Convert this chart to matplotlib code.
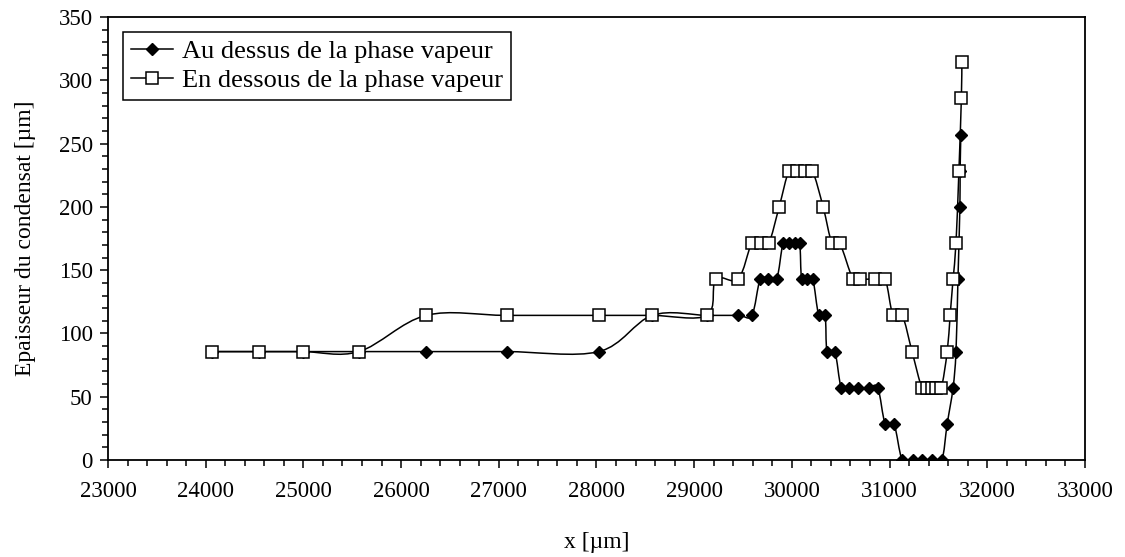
import numpy as np
import matplotlib
matplotlib.use("Agg")
import matplotlib.pyplot as plt
from matplotlib.path import Path
from matplotlib.patches import PathPatch
from matplotlib.lines import Line2D
from matplotlib.ticker import MultipleLocator

# Au dessus de la phase vapeur (losanges pleins)
x_dessus = [24060, 24545, 25000, 25570, 26255, 27080, 28025, 28570, 29130, 29450,
            29590, 29675, 29755, 29845, 29910, 29970, 30030, 30080, 30100, 30160,
            30215, 30275, 30340, 30360, 30440, 30505, 30585, 30675, 30790, 30880,
            30955, 31045, 31130, 31240, 31335, 31435, 31535, 31590, 31650, 31680,
            31700, 31720, 31722, 31730]
y_dessus = [85.7, 85.7, 85.7, 85.7, 85.7, 85.7, 85.7, 114.3, 114.3, 114.3,
            114.3, 142.9, 142.9, 142.9, 171.4, 171.4, 171.4, 171.4, 142.9, 142.9,
            142.9, 114.3, 114.3, 85.7, 85.7, 57.1, 57.1, 57.1, 57.1, 57.1,
            28.6, 28.6, 0, 0, 0, 0, 0, 28.6, 57.1, 85.7,
            142.9, 200, 228.6, 257.1]

# En dessous de la phase vapeur (carrés vides)
x_dessous = [24060, 24545, 25000, 25570, 26255, 27080, 28025, 28570, 29130, 29220,
             29450, 29590, 29685, 29765, 29870, 29970, 30050, 30130, 30210, 30320,
             30410, 30490, 30625, 30700, 30850, 30955, 31035, 31130, 31230, 31330,
             31380, 31430, 31480, 31530, 31590, 31620, 31650, 31680, 31710, 31735,
             31740]
y_dessous = [85.7, 85.7, 85.7, 85.7, 114.3, 114.3, 114.3, 114.3, 114.3, 142.9,
             142.9, 171.4, 171.4, 171.4, 200, 228.6, 228.6, 228.6, 228.6, 200,
             171.4, 171.4, 142.9, 142.9, 142.9, 142.9, 114.3, 114.3, 85.7, 57.1,
             57.1, 57.1, 57.1, 57.1, 85.7, 114.3, 142.9, 171.4, 228.6, 285.7,
             314.3]

label_dessus = "Au dessus de la phase vapeur"
label_dessous = "En dessous de la phase vapeur"

plt.rcParams.update({
    "font.family": ["Liberation Serif", "DejaVu Serif"],
    "font.size": 16.5,
    "axes.linewidth": 1.3,
})


def smooth_path(x, y):
    # courbe lissée façon Excel (Catmull-Rom -> Bézier)
    pts = np.column_stack([x, y]).astype(float)
    n = len(pts)
    verts = [pts[0]]
    codes = [Path.MOVETO]
    for i in range(n - 1):
        p0 = pts[max(i - 1, 0)]
        p1 = pts[i]
        p2 = pts[i + 1]
        p3 = pts[min(i + 2, n - 1)]
        verts += [p1 + (p2 - p0) / 6, p2 - (p3 - p1) / 6, p2]
        codes += [Path.CURVE4] * 3
    return Path(verts, codes)


fig = plt.figure(figsize=(11.25, 5.57), dpi=100)
ax = fig.add_axes([0.096, 0.174, 0.8684, 0.7955])

for xs, ys in [(x_dessus, y_dessus), (x_dessous, y_dessous)]:
    ax.add_patch(PathPatch(smooth_path(xs, ys), fill=False, lw=1.1,
                           ec="black", zorder=2))

ax.plot(x_dessus, y_dessus, ls="none", marker="D", ms=6.2,
        mfc="black", mec="black", zorder=3)
ax.plot(x_dessous, y_dessous, ls="none", marker="s", ms=8,
        mfc="white", mec="black", mew=1.1, zorder=3)

ax.set_xlim(23000, 33000)
ax.set_ylim(0, 350)
ax.xaxis.set_major_locator(MultipleLocator(1000))
ax.xaxis.set_minor_locator(MultipleLocator(200))
ax.yaxis.set_major_locator(MultipleLocator(50))
ax.yaxis.set_minor_locator(MultipleLocator(10))
ax.tick_params(which="both", direction="out", color="black", width=1.1)
ax.tick_params(which="major", length=6)
ax.tick_params(which="minor", length=4)
ax.tick_params(axis="x", pad=9)
ax.tick_params(axis="y", pad=5)

ax.set_xlabel("x [µm]", fontsize=17, labelpad=22)
ax.set_ylabel("Epaisseur du condensat [µm]", fontsize=17, labelpad=16)

handles = [
    Line2D([], [], color="black", lw=1.1, marker="D", ms=6.2, mfc="black"),
    Line2D([], [], color="black", lw=1.1, marker="s", ms=8, mfc="white", mew=1.1),
]
leg = ax.legend(handles, [label_dessus, label_dessous], loc="upper left",
                bbox_to_anchor=(0.0154, 0.966), fancybox=False, framealpha=1,
                edgecolor="black", fontsize=19, handlelength=1.6,
                handletextpad=0.35, borderpad=0.3, labelspacing=0.2,
                borderaxespad=0)
leg.get_frame().set_linewidth(1.1)

fig.savefig("out.png", dpi=100)
